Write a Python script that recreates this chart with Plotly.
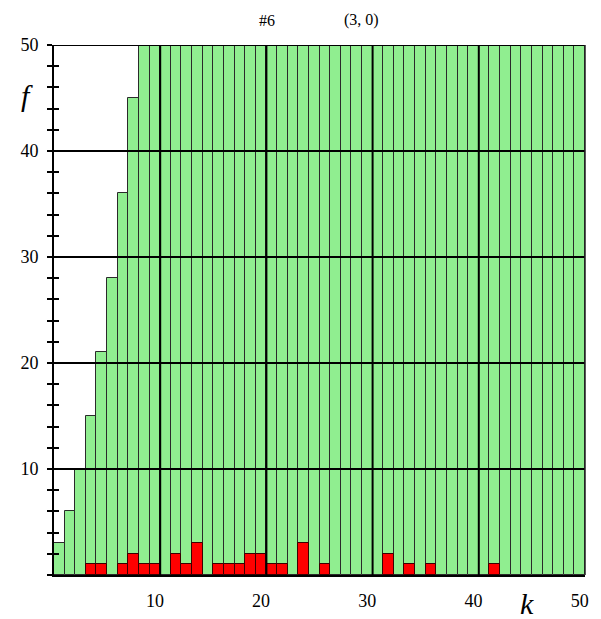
import plotly.graph_objects as go

# ---- data ----
k_values = list(range(1, 51))
green_counts = [3, 6, 10, 15, 21, 28, 36, 45] + [50] * 42
red_counts = [0, 0, 0, 1, 1, 0, 1, 2, 1, 1,
              0, 2, 1, 3, 0, 1, 1, 1, 2, 2,
              1, 1, 0, 3, 0, 1, 0, 0, 0, 0,
              0, 2, 0, 1, 0, 1, 0, 0, 0, 0,
              0, 1, 0, 0, 0, 0, 0, 0, 0, 0]
x_tick_vals = [10, 20, 30, 40, 50]
y_tick_vals = [10, 20, 30, 40, 50]
grid_x = [10.5, 20.5, 30.5, 40.5]
grid_y = [10, 20, 30, 40, 50]
title_left = "#6"
title_right = "(3, 0)"

FONT = "Liberation Serif"

red_x = [k for k, v in zip(k_values, red_counts) if v > 0]
red_y = [v for v in red_counts if v > 0]

fig = go.Figure()
fig.add_trace(go.Bar(
    x=k_values, y=green_counts, width=1,
    marker=dict(color="#90EE90", line=dict(color="#2a2a2a", width=1)),
    showlegend=False, hoverinfo="skip"))
fig.add_trace(go.Bar(
    x=red_x, y=red_y, width=1,
    marker=dict(color="#FF0000", line=dict(color="#3a0000", width=1)),
    showlegend=False, hoverinfo="skip"))

shapes = []
for gx in grid_x:
    shapes.append(dict(type="line", xref="x", yref="paper", x0=gx, x1=gx, y0=0, y1=1,
                       line=dict(color="black", width=2), layer="above"))
for gy in grid_y:
    shapes.append(dict(type="line", xref="paper", yref="y", x0=0, x1=1, y0=gy, y1=gy,
                       line=dict(color="black", width=2), layer="above"))
# right frame
shapes.append(dict(type="line", xref="paper", yref="paper", x0=1, x1=1, y0=0, y1=1,
                   line=dict(color="#222", width=1.5), layer="above"))

fig.update_layout(
    width=593, height=611,
    margin=dict(l=46, r=15.5, t=37, b=44),
    paper_bgcolor="white", plot_bgcolor="white",
    barmode="overlay", bargap=0,
    font=dict(family=FONT, size=18, color="black"),
    shapes=shapes,
    xaxis=dict(range=[0.5, 50.5], tickvals=x_tick_vals, ticks="", showgrid=False,
               zeroline=False, showline=True, linecolor="black", linewidth=2,
               tickfont=dict(family=FONT, size=18), ticklabelstandoff=8,
               automargin=False),
    yaxis=dict(range=[0, 50], tickvals=y_tick_vals, ticks="outside", ticklen=5,
               tickwidth=2, tickcolor="black", showgrid=False, zeroline=False,
               showline=True, linecolor="black", linewidth=2,
               tickfont=dict(family=FONT, size=18), ticklabelstandoff=5,
               automargin=False,
               minor=dict(dtick=2, ticks="outside", ticklen=5, tickwidth=2,
                          tickcolor="black", showgrid=False)),
    yaxis2=dict(range=[0, 50], overlaying="y", side="left", anchor="x",
                dtick=2, ticks="inside", ticklen=5, tickwidth=2, tickcolor="black",
                showticklabels=False, showgrid=False, zeroline=False, showline=False,
                automargin=False),
    annotations=[
        dict(text=title_left, xref="paper", yref="paper", x=0.401, y=1.047,
             showarrow=False, font=dict(family=FONT, size=16), xanchor="center", yanchor="middle"),
        dict(text=title_right, xref="paper", yref="paper", x=0.5795, y=1.047,
             showarrow=False, font=dict(family=FONT, size=16), xanchor="center", yanchor="middle"),
        dict(text="<i>f</i>", xref="paper", yref="paper", x=-0.051, y=0.904,
             showarrow=False, font=dict(family=FONT, size=30), xanchor="center", yanchor="middle"),
        dict(text="<i>k</i>", xref="paper", yref="paper", x=0.890, y=-0.053,
             showarrow=False, font=dict(family=FONT, size=30), xanchor="center", yanchor="middle"),
    ],
)
# invisible trace to activate yaxis2 (inner half of the crossing ticks)
fig.add_trace(go.Scatter(x=[1], y=[0], yaxis="y2", mode="markers",
                         marker=dict(opacity=0), showlegend=False, hoverinfo="skip"))

fig.write_html("out.html")
